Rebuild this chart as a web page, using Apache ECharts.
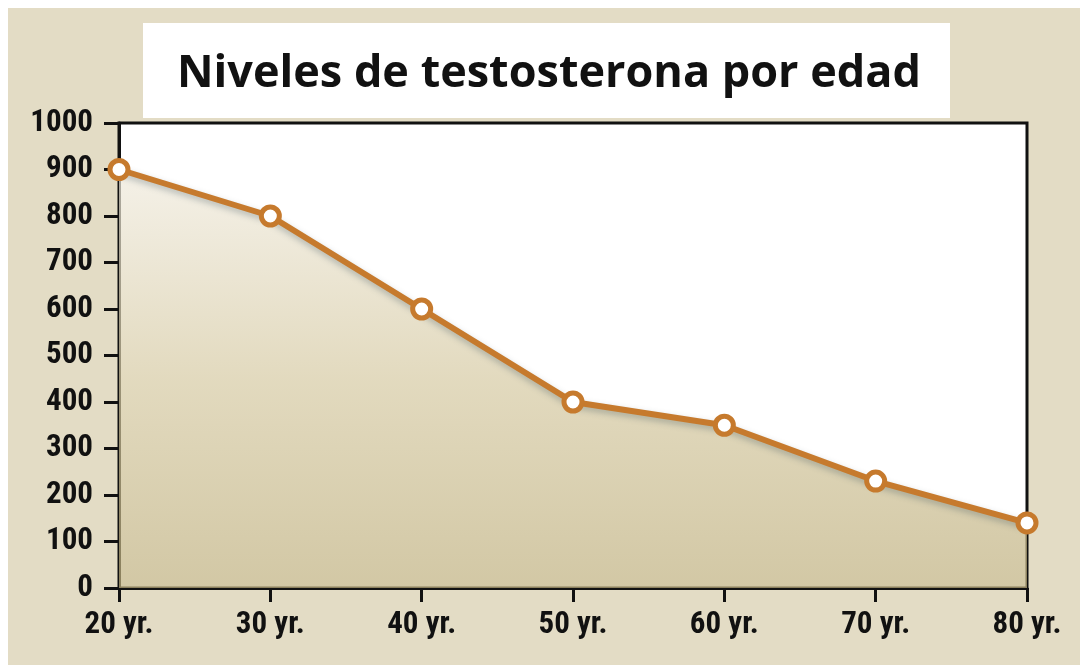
<!DOCTYPE html>
<html>
<head>
<meta charset="utf-8">
<script src="https://cdn.jsdelivr.net/npm/echarts@6/dist/echarts.min.js"></script>
<style>
html,body{margin:0;padding:0;background:#fff;}
#c{width:1080px;height:665px;}
</style>
</head>
<body>
<div id="c"></div>
<script>
var titleText = 'Niveles de testosterona por edad';
var categories = ['20 yr.', '30 yr.', '40 yr.', '50 yr.', '60 yr.', '70 yr.', '80 yr.'];
var testosterone = [900, 800, 600, 400, 350, 230, 140];
var yTicks = { min: 0, max: 1000, interval: 100 };

var chart = echarts.init(document.getElementById('c'), null, { renderer: 'canvas' });
var labelFont = '"Roboto Condensed", "Liberation Sans Narrow", Roboto, sans-serif';
chart.setOption({
  backgroundColor: '#e3dcc5',
  animation: false,
  graphic: [
    { type: 'rect', left: 0, top: 0, shape: { width: 1080, height: 8 }, style: { fill: '#ffffff' }, z: -1 },
    { type: 'rect', left: 0, top: 0, shape: { width: 8, height: 665 }, style: { fill: '#ffffff' }, z: -1 },
    { type: 'rect', left: 143, top: 23, shape: { width: 807, height: 95 }, style: { fill: '#ffffff' }, z: -1 },
    { type: 'text', left: 177, top: 52, style: { text: titleText, fill: '#111111', font: 'bold 45px "Open Sans", sans-serif' }, z: 10 }
  ],
  grid: {
    left: 119, right: 53, top: 123, bottom: 77,
    show: true, backgroundColor: '#ffffff', borderColor: '#111111', borderWidth: 3
  },
  xAxis: {
    type: 'category',
    data: categories,
    boundaryGap: false,
    axisLine: { lineStyle: { color: '#111111', width: 3 } },
    axisTick: { show: true, inside: false, length: 14, alignWithLabel: true, lineStyle: { color: '#111111', width: 3 } },
    axisLabel: { margin: 22, color: '#111111', fontSize: 31, fontWeight: 'bold', fontFamily: labelFont },
    splitLine: { show: false }
  },
  yAxis: {
    type: 'value',
    min: yTicks.min, max: yTicks.max, interval: yTicks.interval,
    axisLine: { show: true, lineStyle: { color: '#111111', width: 3 } },
    axisTick: { show: true, inside: false, length: 15, lineStyle: { color: '#111111', width: 3 } },
    axisLabel: { margin: 26, color: '#111111', fontSize: 31, fontWeight: 'bold', fontFamily: labelFont,
      formatter: function (v) { return String(v); } },
    splitLine: { show: false }
  },
  series: [{
    type: 'line',
    data: testosterone,
    symbol: 'circle',
    symbolSize: 18,
    lineStyle: { color: '#c67a2d', width: 6, shadowColor: 'rgba(60,80,90,0.35)', shadowBlur: 6, shadowOffsetY: 3 },
    itemStyle: { color: '#ffffff', borderColor: '#c67a2d', borderWidth: 5 },
    areaStyle: {
      color: new echarts.graphic.LinearGradient(0, 0, 0, 1, [
        { offset: 0, color: '#f0ebde' },
        { offset: 0.5, color: '#d6caa3' },
        { offset: 1, color: '#bfb07e' }
      ])
    },
    z: 3
  }]
});
</script>
</body>
</html>
